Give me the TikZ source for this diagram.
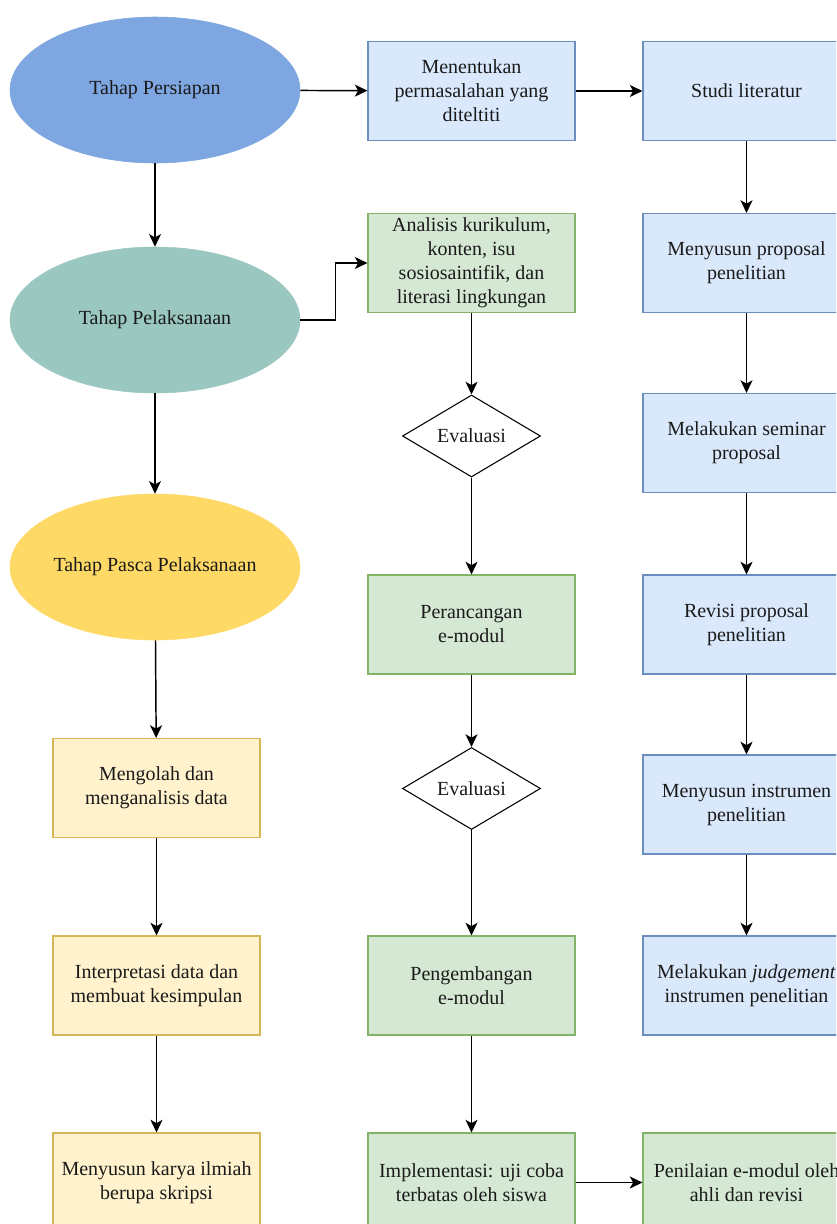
\documentclass[tikz,border=0pt]{standalone}
\usepackage{fontspec}
\setmainfont{Liberation Serif}
\usetikzlibrary{shapes.geometric,arrows.meta}
\definecolor{eblue}{HTML}{7EA6E0}
\definecolor{eteal}{HTML}{9AC7BF}
\definecolor{eyellow}{HTML}{FFD966}
\definecolor{bfill}{HTML}{DAE8FC}
\definecolor{bdraw}{HTML}{6C8EBF}
\definecolor{gfill}{HTML}{D5E8D4}
\definecolor{gdraw}{HTML}{82B366}
\definecolor{yfill}{HTML}{FFF2CC}
\definecolor{ydraw}{HTML}{D6B656}
\definecolor{txt}{HTML}{1A1A1A}
\tikzset{
  base/.style={align=center, text=txt, font=\fontsize{15pt}{18pt}\selectfont, inner sep=0pt},
  phase/.style={base, ellipse, minimum width=217.5pt, minimum height=109.5pt},
  boxb/.style={base, rectangle, draw=bdraw, fill=bfill, line width=0.8pt, minimum width=155.25pt, minimum height=74.25pt},
  boxg/.style={boxb, draw=gdraw, fill=gfill},
  boxy/.style={boxb, draw=ydraw, fill=yfill},
  decision/.style={base, diamond, draw=black, line width=0.8pt, fill=white, aspect=1.68, minimum width=103.5pt, minimum height=61.5pt},
  conn/.style={draw=black, line width=1.1pt, -{Stealth[length=9.5pt,width=9pt,inset=2.5pt]}}
}
\begin{document}
\begin{tikzpicture}[x=0.75pt,y=-0.75pt]
\useasboundingbox (0,0) rectangle (836,1224);
\clip (0,0) rectangle (836,1224);
\fill[white] (0,0) rectangle (836,1224);
% left column
\node[phase, fill=eblue, draw=eblue] (e1) at (155,90) {Tahap Persiapan};
\node[phase, fill=eteal, draw=eteal] (e2) at (155,320) {Tahap Pelaksanaan};
\node[phase, fill=eyellow, draw=eyellow] (e3) at (155,567) {Tahap Pasca Pelaksanaan};
\node[boxy] (mengolah) at (156.5,788) {Mengolah dan\\menganalisis data};
\node[boxy] (interp) at (156.5,985.5) {Interpretasi data dan\\membuat kesimpulan};
\node[boxy] (karya) at (156.5,1182.5) {Menyusun karya ilmiah\\berupa skripsi};
% middle column
\node[boxb] (menentukan) at (471.5,91) {Menentukan\\permasalahan yang\\diteltiti};
\node[boxg] (analisis) at (471.5,263) {Analisis kurikulum,\\konten, isu\\sosiosaintifik, dan\\literasi lingkungan};
\node[decision] (ev1) at (471.5,436) {Evaluasi};
\node[boxg] (peranc) at (471.5,624.5) {Perancangan\\e-modul};
\node[decision] (ev2) at (471.5,788.5) {Evaluasi};
\node[boxg] (pengemb) at (471.5,985.5) {Pengembangan\\e-modul};
\node[boxg] (impl) at (471.5,1182.5) {Implementasi: uji coba\\terbatas oleh siswa};
% right column
\node[boxb] (studi) at (746.5,91) {Studi literatur};
\node[boxb] (proposal) at (746.5,263) {Menyusun proposal\\penelitian};
\node[boxb] (seminar) at (746.5,443) {Melakukan seminar\\proposal};
\node[boxb] (revisi) at (746.5,624.5) {Revisi proposal\\penelitian};
\node[boxb] (instrumen) at (746.5,804.5) {Menyusun instrumen\\penelitian};
\node[boxb] (judge) at (746.5,985.5) {Melakukan \textit{judgement}\\instrumen penelitian};
\node[boxg] (penilaian) at (746.5,1182.5) {Penilaian e-modul oleh\\ahli dan revisi};
% connectors
\draw[conn] (e1) -- (menentukan);
\draw[conn] (menentukan) -- (studi);
\draw[conn] (studi) -- (proposal);
\draw[conn] (proposal) -- (seminar);
\draw[conn] (seminar) -- (revisi);
\draw[conn] (revisi) -- (instrumen);
\draw[conn] (instrumen) -- (judge);
\draw[conn] (e1) -- (e2);
\draw[conn] (e2) -- (e3);
\draw[conn] (e3) -- (mengolah);
\draw[conn] (mengolah) -- (interp);
\draw[conn] (interp) -- (karya);
\draw[conn] (e2.east) -- ++(35,0) |- (analisis.west);
\draw[conn] (analisis) -- (ev1);
\draw[conn] (ev1) -- (peranc);
\draw[conn] (peranc) -- (ev2);
\draw[conn] (ev2) -- (pengemb);
\draw[conn] (pengemb) -- (impl);
\draw[conn] (impl) -- (penilaian);
\end{tikzpicture}
\end{document}
